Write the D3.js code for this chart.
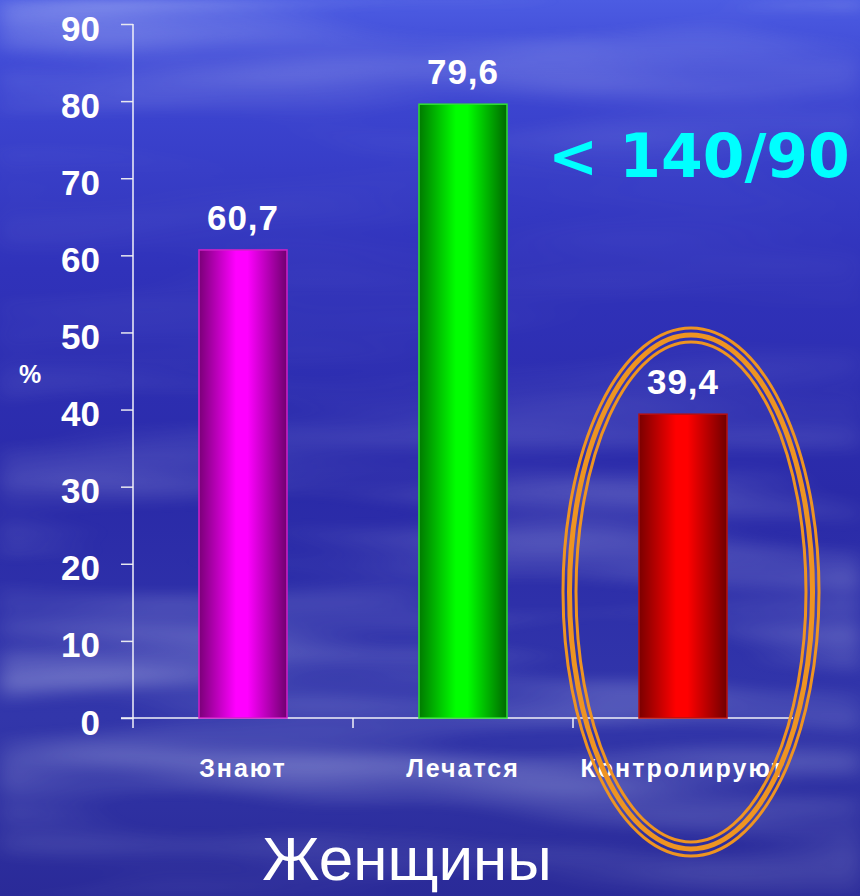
<!DOCTYPE html>
<html><head><meta charset="utf-8">
<script src="https://cdn.jsdelivr.net/npm/d3@7"></script>
<style>html,body{margin:0;padding:0;background:#2a2aa8;overflow:hidden}</style>
</head><body>
<script>
const categories = ["Знают", "Лечатся", "Контролируют"];
const values = [60.7, 79.6, 39.4];
const valueLabels = ["60,7", "79,6", "39,4"];
const yTicks = [0, 10, 20, 30, 40, 50, 60, 70, 80, 90];
const barColors = [
  {dark:"#7a0078", bright:"#ff00ff", dark2:"#700070", edge:"#d020c8"},
  {dark:"#007a00", bright:"#00ff00", dark2:"#006800", edge:"#30e030"},
  {dark:"#7a0000", bright:"#ff0000", dark2:"#700000", edge:"#b81010"}
];
const title = "Женщины";
const note = "< 140/90";
const yLabel = "%";

const W = 860, H = 896;
const svg = d3.select("body").append("svg").attr("width", W).attr("height", H);
const defs = svg.append("defs");

// background
const bg = defs.append("linearGradient").attr("id","bg").attr("x1",0).attr("y1",0).attr("x2",0).attr("y2",1);
[[0,"#4c5ce2"],[0.08,"#3e48d4"],[0.3,"#3032ba"],[0.55,"#2a2aa8"],[0.8,"#3236aa"],[1,"#2a2a98"]]
  .forEach(([o,c])=>bg.append("stop").attr("offset",o).attr("stop-color",c));
svg.append("rect").attr("width",W).attr("height",H).attr("fill","url(#bg)");

const f = defs.append("filter").attr("id","clouds").attr("x",0).attr("y",0).attr("width","100%").attr("height","100%");
f.append("feTurbulence").attr("type","fractalNoise").attr("baseFrequency","0.0025 0.02").attr("numOctaves",2).attr("seed",11);
f.append("feColorMatrix").attr("values","0 0 0 0 0.8  0 0 0 0 0.84  0 0 0 0 1  1.5 0 0 0 -0.55");
f.append("feGaussianBlur").attr("stdDeviation","10 4");
const mg = defs.append("linearGradient").attr("id","mg").attr("x1",0).attr("y1",0).attr("x2",0).attr("y2",1);
[[0,0.9],[0.08,0.5],[0.2,0.1],[0.4,0.15],[0.55,0.5],[0.75,0.8],[0.88,0.7],[1,0.3]]
  .forEach(([o,a])=>mg.append("stop").attr("offset",o).attr("stop-color","#fff").attr("stop-opacity",a));
defs.append("mask").attr("id","cm").append("rect").attr("width",W).attr("height",H).attr("fill","url(#mg)");
svg.append("g").attr("mask","url(#cm)").append("rect").attr("width",W).attr("height",H)
  .attr("filter","url(#clouds)").attr("opacity",0.6);

// scales
const y = d3.scaleLinear().domain([0, 90]).range([718, 24]);
const x = d3.scaleBand().domain(categories).range([133, 793]).paddingInner(0.6).paddingOuter(0.3);
const outer = x.step() * x.paddingOuter();

// bar gradients
barColors.forEach((c,i)=>{
  const g = defs.append("linearGradient").attr("id","bar"+i).attr("x1",0).attr("x2",1).attr("y1",0).attr("y2",0);
  [[0,c.dark],[0.42,c.bright],[0.55,c.bright],[1,c.dark2]].forEach(([o,col])=>g.append("stop").attr("offset",o).attr("stop-color",col));
});

// axes
const yAxis = svg.append("g").attr("transform","translate(133,0)")
  .call(d3.axisLeft(y).tickValues(yTicks).tickSize(12).tickPadding(21));
yAxis.select(".domain").remove();
yAxis.selectAll("line").attr("stroke","#e8e8f0").attr("stroke-width",1.5);
yAxis.selectAll("text").attr("fill","#fff").attr("font-family","'Liberation Sans', Arial, sans-serif")
  .attr("font-weight","bold").attr("font-size",35).attr("dy","0.46em");
svg.append("line").attr("x1",133).attr("x2",133).attr("y1",y(90)).attr("y2",y(0)+10)
  .attr("stroke","#f0f0f8").attr("stroke-width",1.5);
svg.append("line").attr("x1",121).attr("x2",x.range()[1]).attr("y1",y(0)).attr("y2",y(0))
  .attr("stroke","#f0f0f8").attr("stroke-width",1.5);
svg.selectAll(".xt").data(categories.slice(1)).enter().append("line")
  .attr("x1",d=>x(d)-outer).attr("x2",d=>x(d)-outer)
  .attr("y1",y(0)).attr("y2",y(0)+10).attr("stroke","#f0f0f8").attr("stroke-width",1.5);

// bars
svg.selectAll(".bar").data(values).enter().append("rect")
  .attr("x",(d,i)=>x(categories[i])).attr("width",x.bandwidth())
  .attr("y",d=>y(d)).attr("height",d=>y(0)-y(d))
  .attr("fill",(d,i)=>"url(#bar"+i+")").attr("stroke",(d,i)=>barColors[i].edge).attr("stroke-width",1.5);

// value labels
svg.selectAll(".vl").data(values).enter().append("text")
  .attr("x",(d,i)=>x(categories[i])+x.bandwidth()/2).attr("y",d=>y(d)-20)
  .attr("text-anchor","middle").attr("fill","#fff")
  .attr("font-family","'Liberation Sans', Arial, sans-serif").attr("font-weight","bold").attr("font-size",35)
  .attr("letter-spacing",1)
  .text((d,i)=>valueLabels[i]);

// category labels
svg.selectAll(".cl").data(categories).enter().append("text")
  .attr("x",d=>x(d)+x.bandwidth()/2).attr("y",777)
  .attr("text-anchor","middle").attr("fill","#fff")
  .attr("font-family","'Liberation Sans', Arial, sans-serif").attr("font-weight","bold").attr("font-size",25)
  .attr("letter-spacing",2)
  .text(d=>d);

// y label
svg.append("text").attr("x",30).attr("y",383).attr("text-anchor","middle").attr("fill","#fff")
  .attr("font-family","'Liberation Sans', Arial, sans-serif").attr("font-weight","bold").attr("font-size",25)
  .text(yLabel);

// note
svg.append("text").attr("x",548).attr("y",177).attr("fill","#00ffff")
  .attr("font-family","'DejaVu Sans', Verdana, sans-serif").attr("font-weight","bold").attr("font-size",60)
  .text(note);

// ellipse highlight
const cx = x(categories[2]) + x.bandwidth()/2 + 8, cy = 592;
[[128,264,3],[121.5,257,5],[115,250,3]].forEach(([rx,ry,w])=>{
  svg.append("ellipse").attr("cx",cx).attr("cy",cy).attr("rx",rx).attr("ry",ry)
    .attr("fill","none").attr("stroke","#ee9422").attr("stroke-width",w);
});

// title
svg.append("text").attr("x",407).attr("y",880).attr("text-anchor","middle").attr("fill","#fff")
  .attr("font-family","'Liberation Sans', Arial, sans-serif").attr("font-size",62)
  .text(title);
</script>
</body></html>
